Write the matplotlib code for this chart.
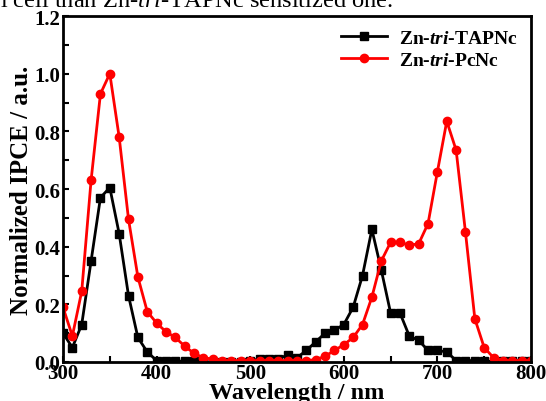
import matplotlib.pyplot as plt
from matplotlib.ticker import MultipleLocator

plt.rcParams['font.family'] = ['Liberation Serif', 'DejaVu Serif']
plt.rcParams['mathtext.fontset'] = 'custom'
plt.rcParams['mathtext.rm'] = 'Liberation Serif'
plt.rcParams['mathtext.it'] = 'Liberation Serif:italic'
plt.rcParams['mathtext.bf'] = 'Liberation Serif:bold'
plt.rcParams['mathtext.bfit'] = 'Liberation Serif:italic:bold'

wavelength = list(range(300, 801, 10))

tapnc = [0.10, 0.05, 0.13, 0.35, 0.57, 0.605, 0.445, 0.23, 0.085, 0.035,
         0.005, 0.005, 0.003, 0.003, 0.003, 0.0, 0.0, 0.0, 0.0, 0.0,
         0.005, 0.01, 0.01, 0.01, 0.025, 0.015, 0.04, 0.07, 0.10, 0.11,
         0.13, 0.19, 0.30, 0.46, 0.32, 0.17, 0.17, 0.09, 0.075, 0.04,
         0.04, 0.035, 0.005, 0.005, 0.005, 0.005, 0.0, 0.005, 0.005, 0.005,
         0.005]

pcnc = [0.19, 0.09, 0.245, 0.63, 0.93, 1.0, 0.78, 0.495, 0.295, 0.175,
        0.135, 0.105, 0.085, 0.055, 0.03, 0.015, 0.01, 0.005, 0.005, 0.005,
        0.005, 0.005, 0.005, 0.005, 0.005, 0.005, 0.005, 0.008, 0.02, 0.04,
        0.06, 0.085, 0.13, 0.225, 0.35, 0.415, 0.415, 0.405, 0.41, 0.48,
        0.66, 0.835, 0.735, 0.45, 0.15, 0.05, 0.015, 0.005, 0.005, 0.005,
        0.005]

fig = plt.figure(figsize=(5.46, 4.02), dpi=100)
ax = fig.add_axes([63 / 546, 1 - 363 / 402, 468 / 546, 346 / 402])

ax.plot(wavelength, tapnc, color='black', marker='s', markersize=5.5, lw=2,
        label=r'Zn-$\mathbfit{tri}$-TAPNc')
ax.plot(wavelength, pcnc, color='#ff0000', marker='o', markersize=6, lw=2,
        label=r'Zn-$\mathbfit{tri}$-PcNc')

ax.set_xlim(300, 800)
ax.set_ylim(0, 1.2)
ax.xaxis.set_major_locator(MultipleLocator(100))
ax.xaxis.set_minor_locator(MultipleLocator(50))
ax.yaxis.set_major_locator(MultipleLocator(0.2))
ax.yaxis.set_minor_locator(MultipleLocator(0.1))
ax.tick_params(which='both', direction='in', width=1.5, length=4, labelsize=15)
ax.tick_params(axis='x', pad=1)
ax.tick_params(axis='y', pad=2)
for lab in ax.get_xticklabels() + ax.get_yticklabels():
    lab.set_fontweight('bold')
ax.yaxis.set_major_formatter(plt.FuncFormatter(lambda v, p: f'{v:.1f}'))
for s in ax.spines.values():
    s.set_linewidth(2)

ax.set_xlabel('Wavelength / nm', fontsize=17.5, fontweight='bold', labelpad=-1)
ax.set_ylabel('Normalized IPCE / a.u.', fontsize=18, fontweight='bold', labelpad=1)

leg = ax.legend(loc='upper right', frameon=False, handlelength=2.4,
                prop={'weight': 'bold', 'size': 14},
                borderaxespad=0.3, labelspacing=0.2, handletextpad=0.6)

fig.text(0.0, 1 - 7 / 402, r'l cell than Zn-$\mathit{tri}$-TAPNc sensitized one.',
         fontsize=17.6, va='baseline', ha='left')

fig.savefig('out.png', dpi=100)
